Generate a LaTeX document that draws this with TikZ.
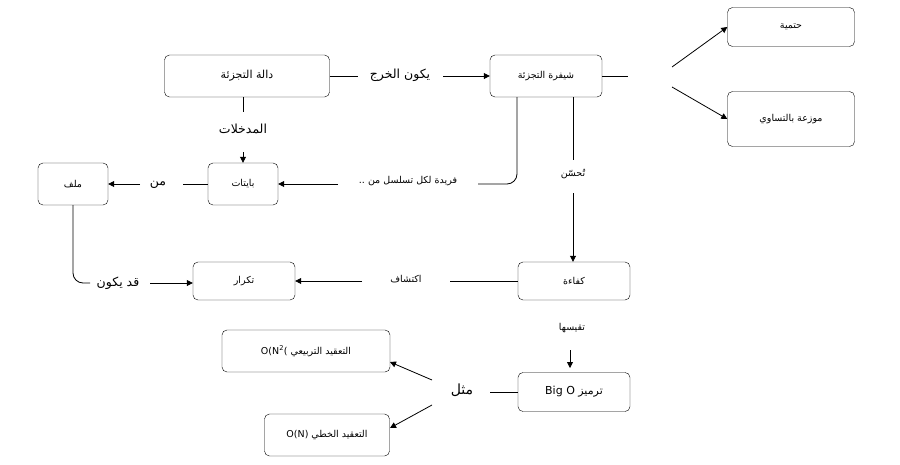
\documentclass[tikz,border=0pt]{standalone}
\usepackage{fontspec}
\setmainfont{DejaVu Sans}
\newfontfamily\arf[Script=Arabic]{DejaVu Sans}
\TeXXeTstate=1
\newcommand{\AR}[1]{{\arf\beginR #1\endR}}
\usetikzlibrary{arrows.meta}
\begin{document}
\begin{tikzpicture}[x=1pt,y=-1pt,
 box/.style={draw,rounded corners=5pt,minimum width=#1,font=\fontsize{9.5}{11}\selectfont,inner sep=0pt},
 lab/.style={font=\fontsize{12.5}{14}\selectfont,inner sep=1pt},
 slab/.style={font=\fontsize{9.5}{11}\selectfont,inner sep=1pt},
 ln/.style={line width=0.8pt},
 ar/.style={ln,-{Triangle[length=6pt,width=6pt]}}]
\useasboundingbox (0,0) rectangle (900,464);
\node[box=165pt,minimum height=42pt,font=\fontsize{11}{13}\selectfont] (dala) at (247,76) {\AR{دالة التجزئة}};
\node[box=112pt,minimum height=42pt] (shif) at (546,76) {\AR{شيفرة التجزئة}};
\node[box=127pt,minimum height=39pt] (hat) at (791,27) {\AR{حتمية}};
\node[box=127pt,minimum height=55pt] (mwz) at (791,119) {\AR{موزعة بالتساوي}};
\node[box=70pt,minimum height=42pt] (bay) at (243,184) {\AR{بايتات}};
\node[box=70pt,minimum height=42pt] (mlf) at (73,184) {\AR{ملف}};
\node[box=102pt,minimum height=38pt] (tkr) at (244,281) {\AR{تكرار}};
\node[box=112pt,minimum height=38pt] (kfa) at (574,281) {\AR{كفاءة}};
\node[box=112pt,minimum height=39pt,font=\fontsize{11}{13}\selectfont] (big) at (574,392) {Big O \AR{ترميز}};
\node[box=168pt,minimum height=42pt] (on2) at (306,351) {O(N\textsuperscript{2}( \AR{التعقيد التربيعي}};
\node[box=125pt,minimum height=42pt] (on) at (327,435) {O(N) \AR{التعقيد الخطي}};
% labels
\node[lab] (l1) at (400,75) {\AR{يكون الخرج}};
\node[lab] (l2) at (243,129) {\AR{المدخلات}};
\node[slab] (l3) at (408,181) {\AR{فريدة لكل تسلسل من ..}};
\node[slab] (l4) at (573,174) {\AR{تُحسّن}};
\node[lab] (l5) at (158,185) {\AR{من}};
\node[lab] (l6) at (118,283) {\AR{قد يكون}};
\node[slab] (l7) at (406,279) {\AR{اكتشاف}};
\node[slab] (l8) at (572,328) {\AR{تقيسها}};
\node[lab,font=\fontsize{14}{16}\selectfont] (l9) at (462,390) {\AR{مثل}};
\coordinate (s1) at (628,76);
\coordinate (s2) at (672,67);
\coordinate (s3) at (672,87);
\coordinate (m1) at (432,380);
\coordinate (m2) at (432,405);
% connectors
\draw[ln] (dala.east) -- (358,76);
\draw[ar] (443,76) -- (shif.west);
\draw[ln] (shif.east) -- (s1);
\draw[ar] (s2) -- (hat.west);
\draw[ar] (s3) -- (mwz.west);
\draw[ln] (243,97) -- (243,112);
\draw[ar] (243,152) -- (bay.north);
\draw[ln,rounded corners=10pt] (517,97) -- (517,184) -- (478,184);
\draw[ar] (338,184) -- (bay.east);
\draw[ln] (573,97) -- (573,160);
\draw[ar] (573,193) -- (kfa.north -| 573,0);
\draw[ln] (bay.west) -- (183,184);
\draw[ar] (140,184) -- (mlf.east);
\draw[ln,rounded corners=10pt] (mlf.south) -- (73,283) -- (90,283);
\draw[ar] (150,283) -- (tkr.west |- 0,283);
\draw[ln] (kfa.west) -- (450,281);
\draw[ar] (362,281) -- (tkr.east);
\draw[ar] (570,350) -- (570,368);
\draw[ln] (big.west) -- (490,392);
\draw[ar] (m1) -- (390,362);
\draw[ar] (m2) -- (390,428);
\end{tikzpicture}
\end{document}
